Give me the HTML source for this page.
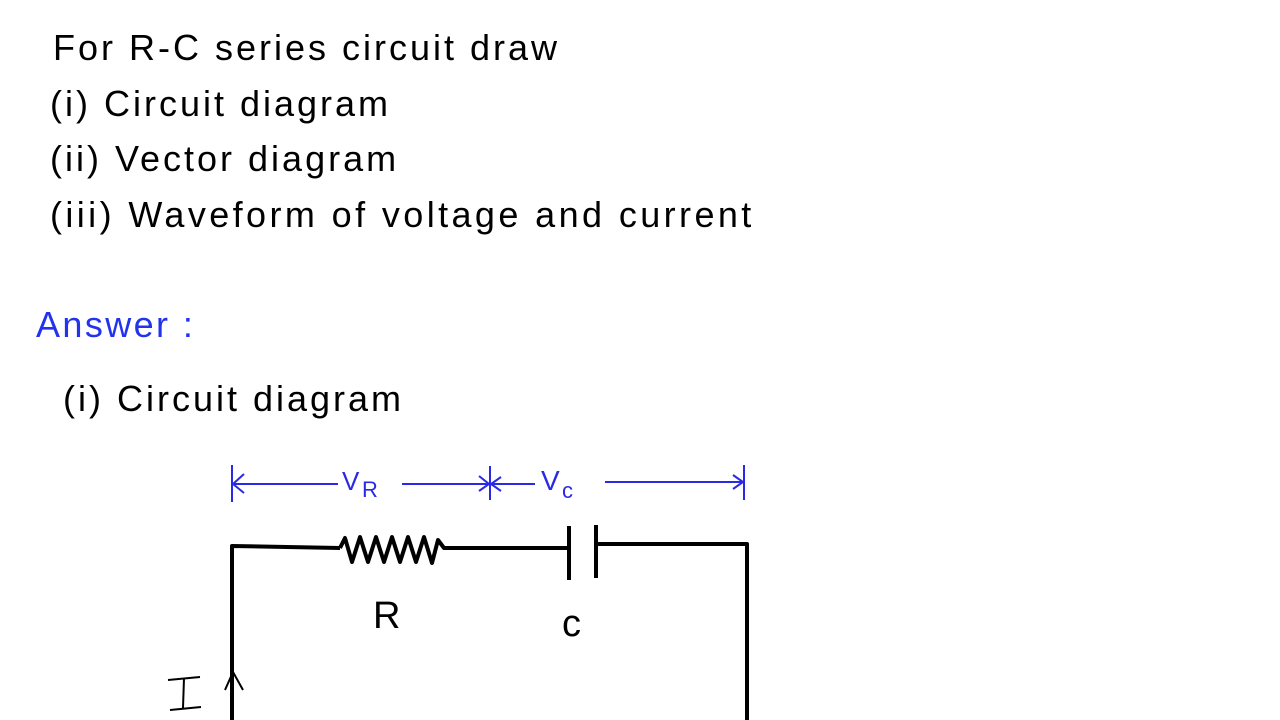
<!DOCTYPE html>
<html><head><meta charset="utf-8"><style>
body{margin:0;width:1280px;height:720px;background:#fff;overflow:hidden;position:relative;font-family:"Liberation Sans",sans-serif;}
.t{position:absolute;font-size:36px;color:#000;white-space:nowrap;line-height:1;letter-spacing:3px;}
</style></head><body>
<div class="t" style="left:53px;top:30px">For R-C series circuit draw</div>
<div class="t" style="left:50px;top:86px">(i) Circuit diagram</div>
<div class="t" style="left:50px;top:141px">(ii) Vector diagram</div>
<div class="t" style="left:50px;top:197px;letter-spacing:3.4px">(iii) Waveform of voltage and current</div>
<div class="t" style="left:36px;top:307px;color:#2233ee;letter-spacing:2.4px">Answer :</div>
<div class="t" style="left:63px;top:381px">(i) Circuit diagram</div>
<svg width="1280" height="720" style="position:absolute;left:0;top:0" fill="none">
<g stroke="#2a2ae6" stroke-width="2">
<line x1="232" y1="465" x2="232" y2="502"/><line x1="490" y1="466" x2="490" y2="500"/><line x1="744" y1="465" x2="744" y2="500"/>
<line x1="232" y1="484" x2="338" y2="484"/><path d="M244 474 L233 484 L244 493"/>
<line x1="402" y1="484" x2="488" y2="484"/><path d="M479 476 L489 484 L479 491"/>
<line x1="492" y1="484" x2="535" y2="484"/><path d="M501 477 L491 484 L501 491"/>
<line x1="605" y1="482" x2="742" y2="482"/><path d="M733 475 L743 482 L733 489"/>
</g>
<text x="342" y="490" font-family="Liberation Sans" font-size="26" fill="#2a2ae6">V</text>
<text x="362" y="497" font-family="Liberation Sans" font-size="22" fill="#2a2ae6">R</text>
<text x="541" y="490" font-family="Liberation Sans" font-size="28" fill="#2a2ae6">V</text>
<text x="562" y="498" font-family="Liberation Sans" font-size="22" fill="#2a2ae6">c</text>
<g stroke="#000" stroke-width="4" stroke-linejoin="round">
<polyline points="232,720 232,546 340,548"/>
<polyline points="340,548 345,538 352,562 360,537 368,562 376,537 384,562 392,537 400,562 408,537 416,562 424,537 432,563 438,540 444,548 568,548"/>
<line x1="569" y1="526" x2="569" y2="580"/><line x1="596" y1="525" x2="596" y2="578"/>
<polyline points="598,544 747,544 747,720"/>
<path d="M225 690 L233 672 L243 690" stroke-width="2"/>
<path d="M168 680 L200 677 M184 678 L183 708 M170 710 L201 707" stroke-width="2"/>
</g>
<text x="373" y="628" font-family="Liberation Sans" font-size="38" fill="#000">R</text>
<text x="562" y="636" font-family="Liberation Sans" font-size="38" fill="#000">c</text>
</svg>
</body></html>
